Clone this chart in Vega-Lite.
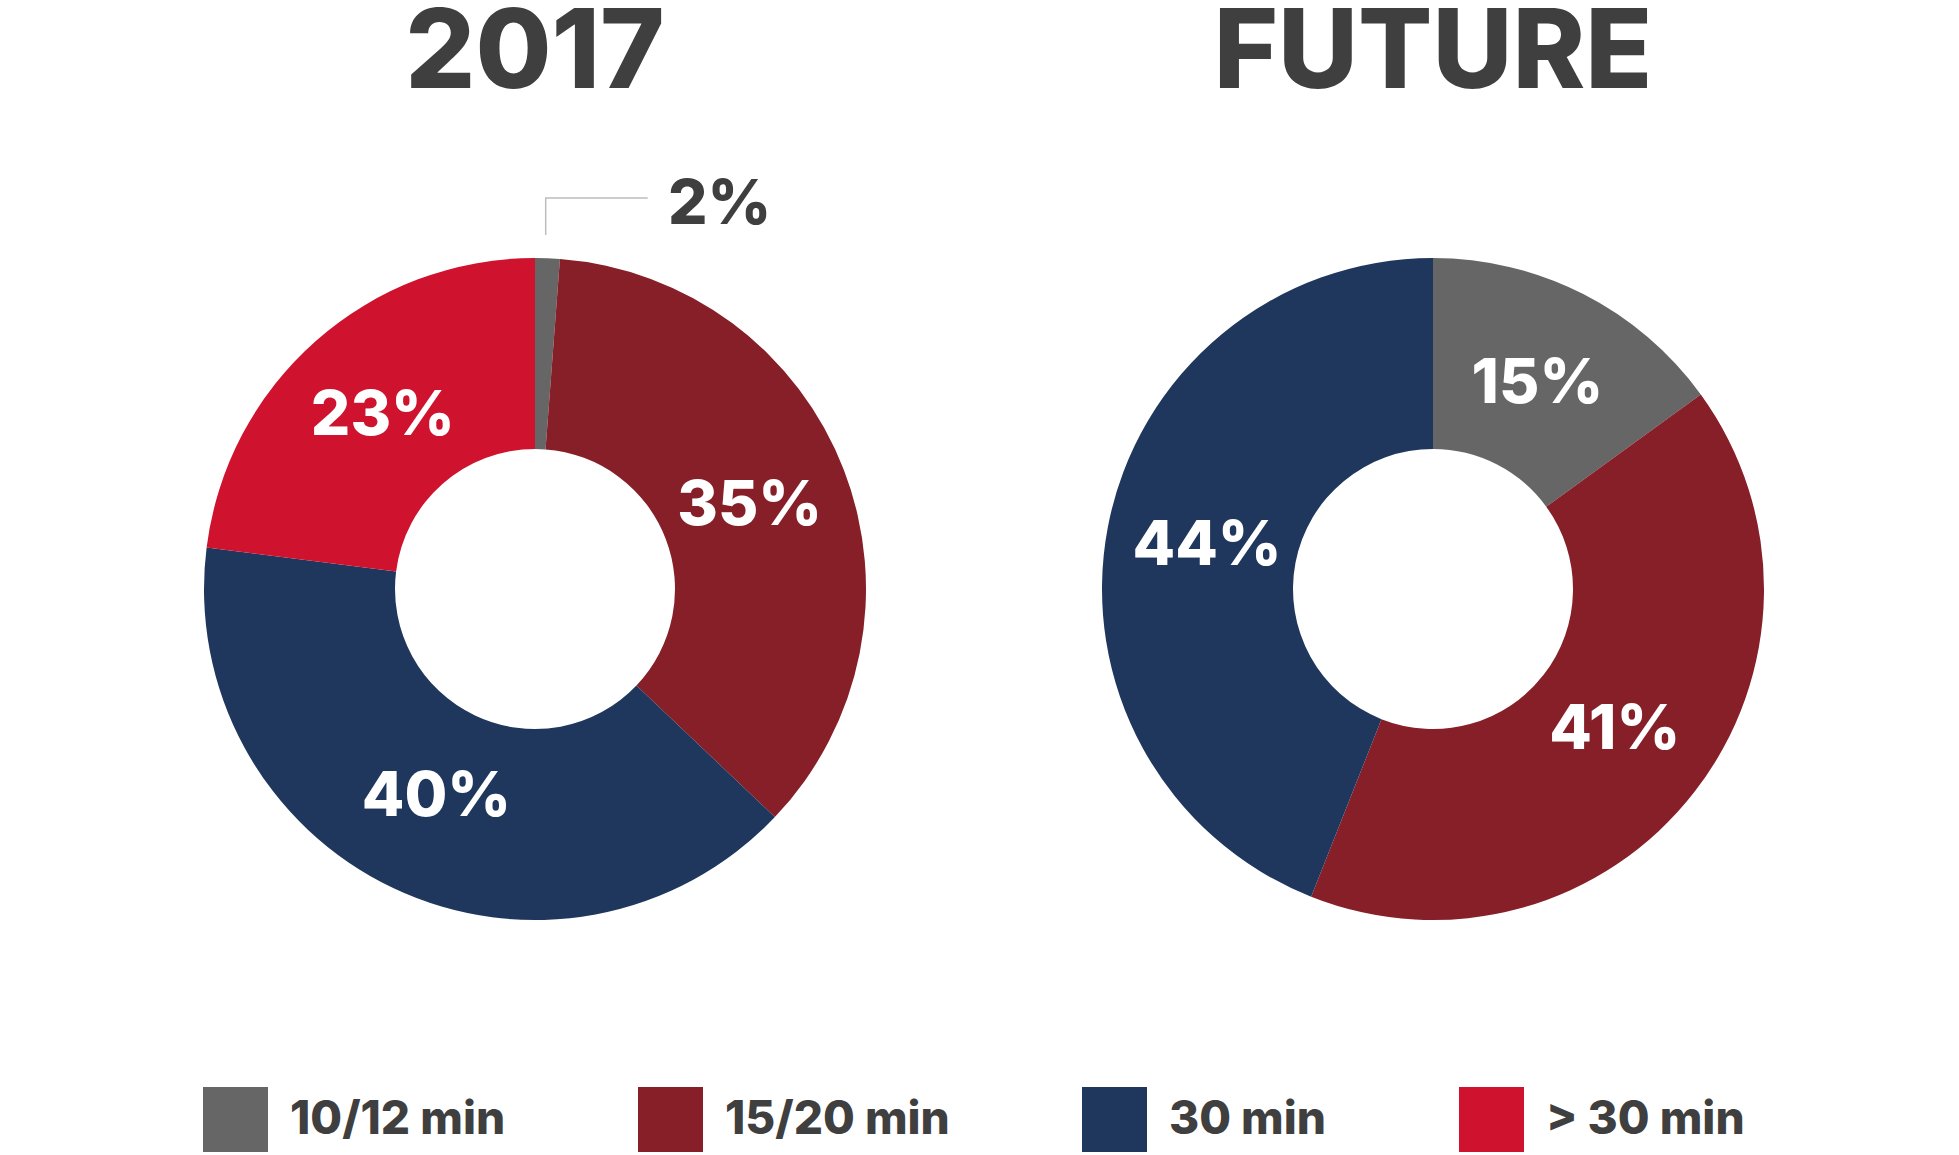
{
  "$schema": "https://vega.github.io/schema/vega-lite/v6.json",
  "background": "white",
  "padding": {"left": 185, "top": 0, "right": 0, "bottom": 0},
  "autosize": {"type": "pad"},
  "config": {
    "view": {"stroke": null},
    "font": "Inter",
    "title": {"fontSize": 110, "fontWeight": 800, "color": "#3f3f3f", "anchor": "middle", "offset": 10, "dy": -5, "font": "Inter"}
  },
  "datasets": {
    "shares": [
      {"period": "2017", "k": 1, "category": "10/12 min", "value": 1.2, "label": "2%"},
      {"period": "2017", "k": 2, "category": "15/20 min", "value": 35.9, "label": "35%"},
      {"period": "2017", "k": 3, "category": "30 min", "value": 39.9, "label": "40%"},
      {"period": "2017", "k": 4, "category": "> 30 min", "value": 23.0, "label": "23%"},
      {"period": "FUTURE", "k": 1, "category": "10/12 min", "value": 15, "label": "15%"},
      {"period": "FUTURE", "k": 2, "category": "15/20 min", "value": 41, "label": "41%"},
      {"period": "FUTURE", "k": 3, "category": "30 min", "value": 44, "label": "44%"}
    ]
  },
  "spacing": 198,
  "hconcat": [
    {
      "width": 700,
      "height": 926,
      "title": "2017",
      "data": {"name": "shares"},
      "transform": [{"filter": "datum.period === '2017'"}],
      "encoding": {
        "theta": {"field": "value", "type": "quantitative", "stack": true},
        "order": {"field": "k", "type": "quantitative", "sort": "ascending"}
      },
      "layer": [
        {
          "mark": {"type": "arc", "innerRadius": 140, "outerRadius": 331},
          "encoding": {
            "color": {
              "field": "category", "type": "nominal",
              "scale": {"domain": ["10/12 min", "15/20 min", "30 min", "> 30 min"], "range": ["#666666", "#861f28", "#1f365d", "#cf122d"]},
              "legend": {
                "orient": "none", "legendX": 18, "legendY": 961, "direction": "horizontal", "title": null,
                "symbolType": "square", "symbolSize": 4225, "symbolStrokeWidth": 0, "symbolOpacity": 1,
                "labelFont": "Inter", "labelFontSize": 46, "labelFontWeight": 800, "labelColor": "#3f3f3f",
                "labelOffset": 22, "columnPadding": 132, "labelLimit": 0, "padding": 0
              }
            }
          }
        },
        {
          "mark": {"type": "text", "radius": 230, "color": "white", "fontSize": 62, "fontWeight": 800, "font": "Inter", "align": "center", "baseline": "middle"},
          "encoding": {
            "text": {"condition": {"test": "datum.k === 1", "value": ""}, "field": "label", "type": "nominal"}
          }
        },
        {
          "transform": [{"filter": "datum.k === 1"}],
          "mark": {"type": "text", "radius": 390, "dx": 170, "dy": 6, "color": "#3f3f3f", "fontSize": 62, "fontWeight": 800, "font": "Inter", "align": "center", "baseline": "middle"},
          "encoding": {
            "text": {"field": "label", "type": "nominal"}
          }
        },
        {
          "transform": [{"filter": "datum.k === 1"}],
          "mark": {"type": "point", "shape": "M0.107,-3.54V-3.91H1.127", "size": 40000, "filled": false, "stroke": "#bdbdbd", "strokeWidth": 1.5, "opacity": 1},
          "encoding": {}
        }
      ]
    },
    {
      "width": 700,
      "height": 926,
      "title": "FUTURE",
      "data": {"name": "shares"},
      "transform": [{"filter": "datum.period === 'FUTURE'"}],
      "encoding": {
        "theta": {"field": "value", "type": "quantitative", "stack": true},
        "order": {"field": "k", "type": "quantitative", "sort": "ascending"}
      },
      "layer": [
        {
          "mark": {"type": "arc", "innerRadius": 140, "outerRadius": 331},
          "encoding": {
            "color": {
              "field": "category", "type": "nominal",
              "scale": {"domain": ["10/12 min", "15/20 min", "30 min", "> 30 min"], "range": ["#666666", "#861f28", "#1f365d", "#cf122d"]},
              "legend": {
                "orient": "none", "legendX": 18, "legendY": 961, "direction": "horizontal", "title": null,
                "symbolType": "square", "symbolSize": 4225, "symbolStrokeWidth": 0, "symbolOpacity": 1,
                "labelFont": "Inter", "labelFontSize": 46, "labelFontWeight": 800, "labelColor": "#3f3f3f",
                "labelOffset": 22, "columnPadding": 132, "labelLimit": 0, "padding": 0
              }
            }
          }
        },
        {
          "mark": {"type": "text", "radius": 230, "color": "white", "fontSize": 62, "fontWeight": 800, "font": "Inter", "align": "center", "baseline": "middle"},
          "encoding": {
            "text": {"field": "label", "type": "nominal"}
          }
        }
      ]
    }
  ]
}
